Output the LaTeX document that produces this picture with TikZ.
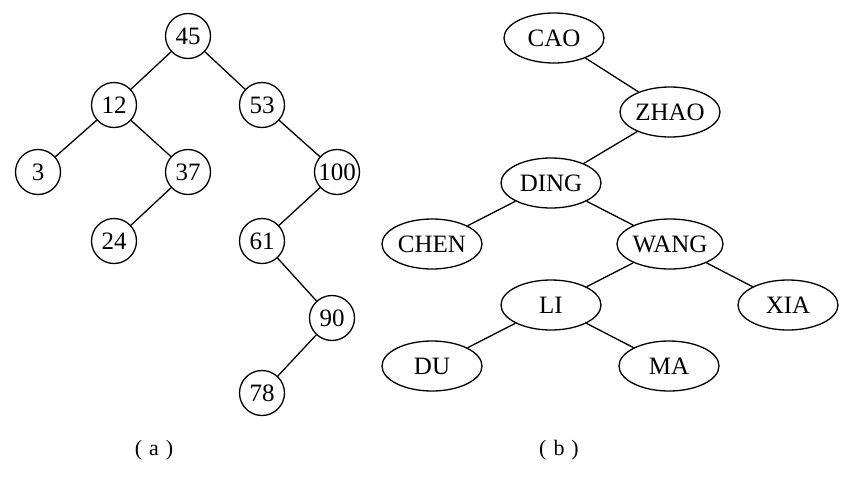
\documentclass[tikz,border=0pt]{standalone}
\usepackage{fontspec}
\setmainfont{Liberation Serif}
\usetikzlibrary{shapes.geometric}
\begin{document}
\begin{tikzpicture}[x=1pt,y=-1pt,
  every node/.style={font=\fontsize{25}{28}\selectfont},
  numnode/.style={circle,draw,line width=1.3pt,minimum size=45pt,inner sep=0pt},
  namenode/.style={ellipse,draw,line width=1.3pt,minimum width=100pt,minimum height=50pt,inner sep=0pt},
  edgeline/.style={line width=1.3pt},
  capnode/.style={font=\fontsize{22}{26}\selectfont}]
\useasboundingbox (0,0) rectangle (868,488);
% tree (a)
\node[numnode] (n45) at (188,36) {45};
\node[numnode] (n12) at (114,105) {12};
\node[numnode] (n53) at (262,105) {53};
\node[numnode] (n3) at (38,172) {3};
\node[numnode] (n37) at (188,172) {37};
\node[numnode] (n100) at (337,172) {100};
\node[numnode] (n24) at (114,241) {24};
\node[numnode] (n61) at (262,241) {61};
\node[numnode] (n90) at (332,318) {90};
\node[numnode] (n78) at (262,393) {78};
\draw[edgeline] (n45) -- (n12);
\draw[edgeline] (n45) -- (n53);
\draw[edgeline] (n12) -- (n3);
\draw[edgeline] (n12) -- (n37);
\draw[edgeline] (n37) -- (n24);
\draw[edgeline] (n53) -- (n100);
\draw[edgeline] (n100) -- (n61);
\draw[edgeline] (n61) -- (n90);
\draw[edgeline] (n90) -- (n78);
\node[capnode] (capa) at (154,450) {(\hspace{7pt}a\hspace{7pt})};
% tree (b)
\node[namenode] (cao) at (554,38) {CAO};
\node[namenode] (zhao) at (670,112) {ZHAO};
\node[namenode] (ding) at (551,183) {DING};
\node[namenode] (chen) at (432,244) {CHEN};
\node[namenode] (wang) at (670,244) {WANG};
\node[namenode] (li) at (551,305) {LI};
\node[namenode] (xia) at (788,305) {XIA};
\node[namenode] (du) at (432,366) {DU};
\node[namenode] (ma) at (669,366) {MA};
\draw[edgeline] (cao) -- (zhao);
\draw[edgeline] (zhao) -- (ding);
\draw[edgeline] (ding) -- (chen);
\draw[edgeline] (ding) -- (wang);
\draw[edgeline] (wang) -- (li);
\draw[edgeline] (wang) -- (xia);
\draw[edgeline] (li) -- (du);
\draw[edgeline] (li) -- (ma);
\node[capnode] (capb) at (559,450) {(\hspace{7pt}b\hspace{7pt})};
\end{tikzpicture}
\end{document}
